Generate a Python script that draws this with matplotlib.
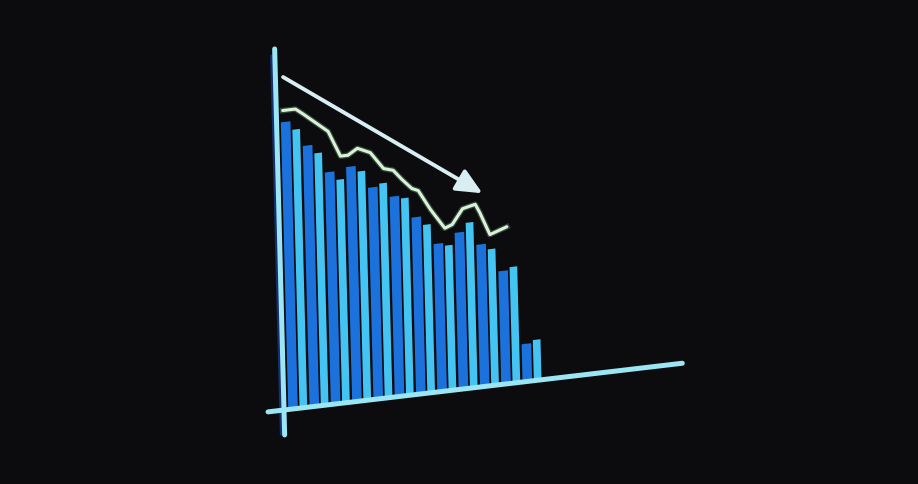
import numpy as np
import matplotlib
matplotlib.use("Agg")
import matplotlib.pyplot as plt
from matplotlib.transforms import Affine2D
from matplotlib.patches import FancyArrowPatch

# bar pairs (arbitrary units)
pairs = np.arange(12)
dark_vals = [99, 90, 80, 81, 73, 69, 61, 51, 54, 49, 39, 13]
light_vals = [96, 87, 77, 79, 74, 68, 58, 50, 57, 47, 40, 14]

# trend line above the bars
line_x = [0.3, 0.9, 1.25, 2.4, 2.95, 3.3, 3.75, 4.35, 4.95, 5.4, 5.8,
          6.25, 6.55, 7.1, 7.75, 8.1, 8.6, 9.2, 9.4, 9.85, 10.25, 10.65]
line_y = [103, 103, 101, 94, 85, 85, 87, 85, 79, 78, 74.5,
          71, 70, 63, 56, 57, 62, 63, 60, 52, 53, 54]

# downward arrow (start, end)
arrow_start = (0.36, 114.5)
arrow_end = (9.55, 66.5)

bg = "#0c0c0e"
fig = plt.figure(figsize=(9.18, 4.84), dpi=100, facecolor=bg)
ax = fig.add_axes([0, 0, 1, 1])
ax.set_facecolor(bg)
ax.set_xlim(0, 918)
ax.set_ylim(0, 484)
ax.axis("off")

# the screen is photographed at an angle -> skew the chart
skew = Affine2D(np.array([[21.3, -0.075, 284.0],
                          [2.5, 2.9, 74.0],
                          [0.0, 0.0, 1.0]]))
T = skew + ax.transData

# axes
ax.plot([-0.75, 18.7], [0, 0], color="#9ae6f5", lw=3.6,
        solid_capstyle="round", transform=T, zorder=5)
ax.plot([-0.14, -0.14], [-8, 122], color="#1d4cc0", lw=2.5, alpha=0.55,
        transform=T, zorder=4)
ax.plot([0, 0], [-8.6, 124.5], color="#9ae6f5", lw=3.6,
        solid_capstyle="round", transform=T, zorder=5)

# bars
ax.bar(pairs + 0.2, dark_vals, width=0.45, align="edge",
       color="#1c72dc", transform=T, zorder=2)
ax.bar(pairs + 0.73, light_vals, width=0.36, align="edge",
       color="#44c4f2", transform=T, zorder=2)

# line
ax.plot(line_x, line_y, color="#8fd9b0", lw=4, alpha=0.3,
        solid_joinstyle="round", transform=T, zorder=3)
ax.plot(line_x, line_y, color="#dcf2d6", lw=2.2,
        solid_joinstyle="round", solid_capstyle="round", transform=T, zorder=4)

# arrow
arr = FancyArrowPatch(arrow_start, arrow_end, transform=T,
                      arrowstyle="-|>,head_length=1.3,head_width=0.6",
                      mutation_scale=12, color="#d8eef2", lw=2.8,
                      shrinkA=0, shrinkB=0, zorder=4)
ax.add_patch(arr)

fig.savefig("out.png", dpi=100, facecolor=bg)
